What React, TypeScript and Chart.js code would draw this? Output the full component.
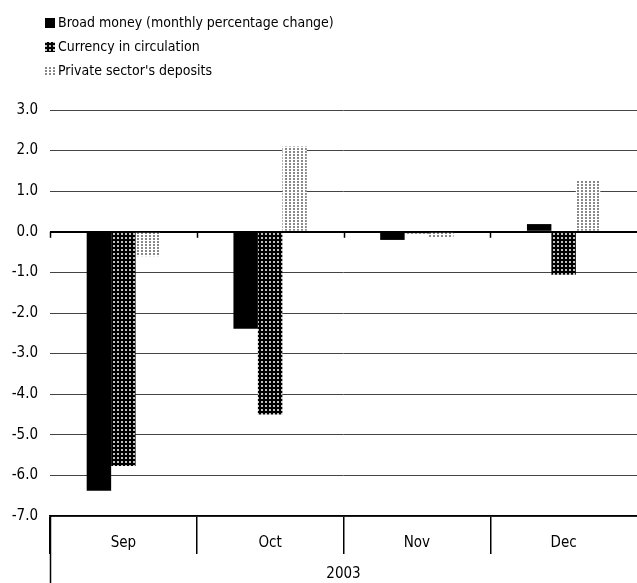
import React, { useEffect, useRef } from 'react';
import { Chart, registerables } from 'chart.js';

Chart.register(...registerables);

const categories = ['Sep', 'Oct', 'Nov', 'Dec'];
const yearLabel = '2003';
const seriesNames = [
  'Broad money (monthly percentage change)',
  'Currency in circulation',
  "Private sector's deposits",
];
const broadMoney = [-6.38, -2.39, -0.2, 0.19];
const currencyInCirculation = [-5.77, -4.5, -0.04, -1.06];
const privateDeposits = [-0.6, 2.1, -0.14, 1.25];
const yMin = -7;
const yMax = 3;
const yStep = 1;

const FONT_FAMILY = '"DejaVu Sans Condensed", "DejaVu Sans", sans-serif';
const FONT_SIZE = 14;
const NUM_FONT_SIZE = 15;

function makePattern(
  ctx: CanvasRenderingContext2D,
  bg: string,
  dot: string,
  w: number,
  h: number,
  dw: number,
  dh: number
) {
  const c = document.createElement('canvas');
  c.width = w;
  c.height = h;
  const g = c.getContext('2d')!;
  g.fillStyle = bg;
  g.fillRect(0, 0, w, h);
  g.fillStyle = dot;
  g.fillRect(1, 1, dw, dh);
  return ctx.createPattern(c, 'repeat') as CanvasPattern;
}

const decorPlugin = {
  id: 'decor',
  afterDraw(chart: any) {
    const ctx = chart.ctx as CanvasRenderingContext2D;
    const area = chart.chartArea;
    const xs = chart.scales.x;
    const ys = chart.scales.y;
    ctx.save();
    const y0 = ys.getPixelForValue(0);
    ctx.strokeStyle = '#000';
    ctx.lineWidth = 1.5;
    for (let i = 0; i < categories.length; i++) {
      const x = Math.round(xs.getPixelForValue(i - 0.5)) + 0.5;
      ctx.beginPath();
      ctx.moveTo(x, y0);
      ctx.lineTo(x, y0 + 6);
      ctx.stroke();
    }
    const xl = Math.round(area.left) + 0.5;
    ctx.beginPath();
    ctx.moveTo(xl, area.bottom);
    ctx.lineTo(xl, chart.height);
    ctx.stroke();
    ctx.font = `${FONT_SIZE}px ${FONT_FAMILY}`;
    ctx.textBaseline = 'middle';
    ctx.textAlign = 'left';
    chart.data.datasets.forEach((ds: any, i: number) => {
      const cy = 23 + i * 24;
      ctx.fillStyle = ds.backgroundColor;
      ctx.fillRect(45, cy - 5, 10, 10);
      ctx.fillStyle = '#000';
      ctx.fillText(ds.label, 58, cy);
    });
    ctx.restore();
  },
};

export default function App() {
  const ref = useRef<HTMLCanvasElement | null>(null);

  useEffect(() => {
    const canvas = ref.current!;
    const ctx = canvas.getContext('2d')!;
    const darkPattern = makePattern(ctx, '#000000', '#c0c0c0', 4, 4, 2, 2);
    const lightPattern = makePattern(ctx, '#ffffff', '#888888', 4, 3, 2, 2);
    const numFont = { family: FONT_FAMILY, size: NUM_FONT_SIZE };

    const chart = new Chart(ctx, {
      type: 'bar',
      data: {
        labels: categories,
        datasets: [
          { label: seriesNames[0], data: broadMoney, backgroundColor: '#000000' },
          { label: seriesNames[1], data: currencyInCirculation, backgroundColor: darkPattern as any },
          { label: seriesNames[2], data: privateDeposits, backgroundColor: lightPattern as any },
        ],
      },
      options: {
        animation: false,
        responsive: false,
        maintainAspectRatio: false,
        layout: { padding: { top: 110, left: 0, right: 0, bottom: 0 } },
        datasets: { bar: { categoryPercentage: 0.5, barPercentage: 1.0, borderWidth: 0 } },
        plugins: {
          legend: { display: false },
          tooltip: { enabled: false },
          title: { display: false },
        },
        scales: {
          x: {
            type: 'category',
            offset: true,
            grid: {
              display: true,
              offset: true,
              drawOnChartArea: false,
              drawTicks: true,
              tickLength: 38,
              color: (c: any) => (c.type === 'tick' ? '#000' : 'rgba(0,0,0,0)'),
              lineWidth: 1.5,
            },
            border: { display: true, color: '#000', width: 1.5 },
            ticks: { padding: -20, font: numFont, color: '#000', maxRotation: 0 },
            title: { display: true, text: yearLabel, font: numFont, color: '#000', padding: { top: 0, bottom: 0 } },
            afterFit: (s: any) => {
              s.height = 67;
            },
          },
          y: {
            min: yMin,
            max: yMax,
            ticks: {
              stepSize: yStep,
              font: numFont,
              color: '#000',
              padding: 12,
              callback: (v: any) => Number(v).toFixed(1),
            },
            grid: {
              drawTicks: false,
              color: (c: any) => (c.tick && c.tick.value === 0 ? '#000' : '#444'),
              lineWidth: (c: any) => (c.tick && c.tick.value === 0 ? 2 : 1),
            },
            border: { display: false },
            afterFit: (s: any) => {
              s.width = 50;
            },
          },
        },
      },
      plugins: [decorPlugin],
    });
    return () => chart.destroy();
  }, []);

  return (
    <div style={{ position: 'fixed', left: 0, top: 0, width: 637, height: 583, background: '#fff' }}>
      <canvas ref={ref} width={637} height={583} style={{ display: 'block', width: 637, height: 583 }} />
    </div>
  );
}
